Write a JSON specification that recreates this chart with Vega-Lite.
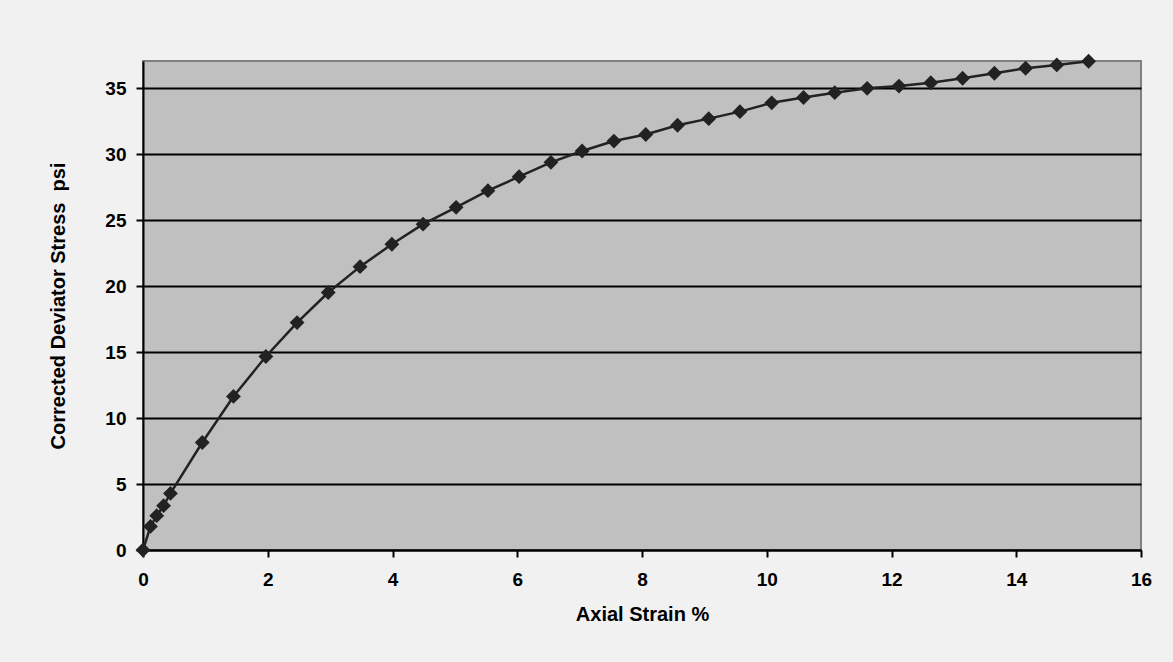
{
  "$schema": "https://vega.github.io/schema/vega-lite/v6.json",
  "autosize": "none",
  "width": 998,
  "height": 489,
  "padding": {"left": 143, "top": 61, "right": 32, "bottom": 112},
  "background": "#f1f1f1",
  "config": {
    "view": {"fill": "#c0c0c0", "stroke": "#808080", "strokeWidth": 2},
    "font": "Liberation Sans"
  },
  "data": {
    "values": [
      {"strain": 0, "stress": 0},
      {"strain": 0.12, "stress": 1.79},
      {"strain": 0.22, "stress": 2.6},
      {"strain": 0.33, "stress": 3.36},
      {"strain": 0.44, "stress": 4.29},
      {"strain": 0.95, "stress": 8.15},
      {"strain": 1.45, "stress": 11.64},
      {"strain": 1.97, "stress": 14.67},
      {"strain": 2.47, "stress": 17.24},
      {"strain": 2.97, "stress": 19.52},
      {"strain": 3.48, "stress": 21.48},
      {"strain": 3.99, "stress": 23.18},
      {"strain": 4.49, "stress": 24.7},
      {"strain": 5.02, "stress": 25.98},
      {"strain": 5.53, "stress": 27.24},
      {"strain": 6.03, "stress": 28.3},
      {"strain": 6.54, "stress": 29.39},
      {"strain": 7.04, "stress": 30.25},
      {"strain": 7.55, "stress": 31.0},
      {"strain": 8.06, "stress": 31.5},
      {"strain": 8.57, "stress": 32.2},
      {"strain": 9.07, "stress": 32.7},
      {"strain": 9.57, "stress": 33.23},
      {"strain": 10.08, "stress": 33.9},
      {"strain": 10.59, "stress": 34.3},
      {"strain": 11.09, "stress": 34.67},
      {"strain": 11.61, "stress": 35.0},
      {"strain": 12.12, "stress": 35.17},
      {"strain": 12.63, "stress": 35.42},
      {"strain": 13.14, "stress": 35.76},
      {"strain": 13.65, "stress": 36.14},
      {"strain": 14.15, "stress": 36.52},
      {"strain": 14.65, "stress": 36.77},
      {"strain": 15.16, "stress": 37.05}
    ]
  },
  "encoding": {
    "x": {
      "field": "strain",
      "type": "quantitative",
      "scale": {"domain": [0, 16], "nice": false},
      "axis": {
        "title": "Axial Strain %",
        "values": [0, 2, 4, 6, 8, 10, 12, 14, 16],
        "grid": false,
        "labelFlush": false,
        "labelOverlap": false,
        "domainColor": "black",
        "domainWidth": 2,
        "tickColor": "black",
        "tickWidth": 2,
        "tickSize": 7,
        "labelFontSize": 19,
        "labelFontWeight": "bold",
        "labelColor": "black",
        "labelPadding": 13,
        "titleFontSize": 20,
        "titleFontWeight": "bold",
        "titleColor": "black",
        "titlePadding": 15
      }
    },
    "y": {
      "field": "stress",
      "type": "quantitative",
      "scale": {"domain": [0, 37.07], "nice": false},
      "axis": {
        "title": "Corrected Deviator Stress\u00a0 psi",
        "values": [0, 5, 10, 15, 20, 25, 30, 35],
        "grid": true,
        "labelFlush": false,
        "labelOverlap": false,
        "gridColor": "black",
        "gridWidth": 2,
        "gridOpacity": 1,
        "domainColor": "black",
        "domainWidth": 2,
        "tickColor": "black",
        "tickWidth": 2,
        "tickSize": 7,
        "labelFontSize": 19,
        "labelFontWeight": "bold",
        "labelColor": "black",
        "labelPadding": 10,
        "titleFontSize": 20,
        "titleFontWeight": "bold",
        "titleColor": "black",
        "titlePadding": 36
      }
    }
  },
  "layer": [
    {"mark": {"type": "line", "color": "#222222", "strokeWidth": 2.5}},
    {"mark": {"type": "point", "shape": "diamond", "filled": true, "color": "#222222", "size": 220, "opacity": 1}}
  ]
}
